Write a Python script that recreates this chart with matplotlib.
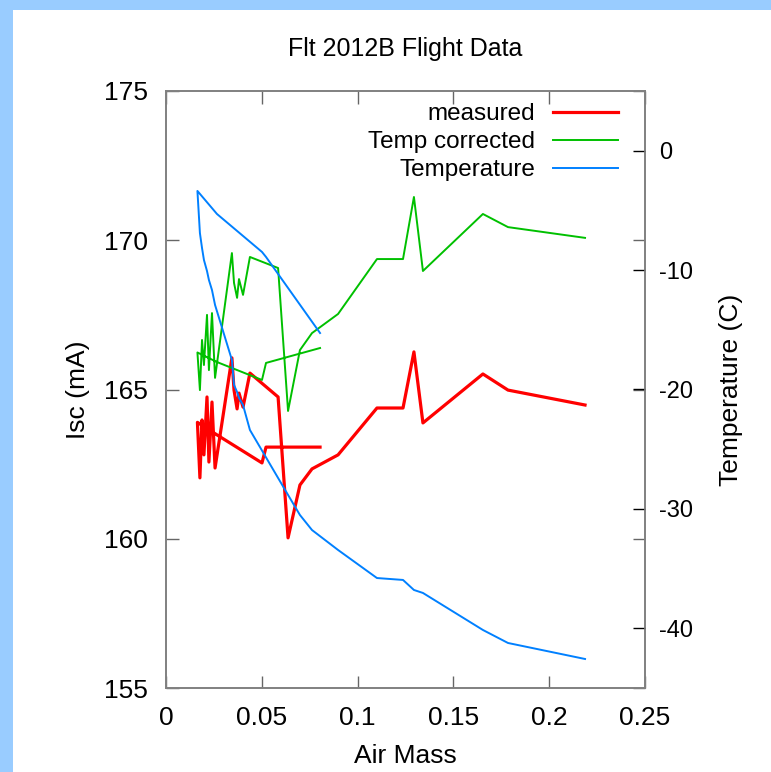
import matplotlib
matplotlib.use("Agg")
import matplotlib.pyplot as plt
from matplotlib.font_manager import findfont, FontProperties
from matplotlib.patches import Rectangle

# ---- data (ascent to turnaround, then descent) ----
air_mass = [0.2187, 0.1785, 0.1654, 0.1341, 0.1294, 0.1237, 0.1101, 0.0898,
            0.0762, 0.0699, 0.0637, 0.0585, 0.0438, 0.0402, 0.0381, 0.0371,
            0.0355, 0.0344, 0.0256, 0.0240, 0.0224, 0.0214, 0.0198, 0.0188,
            0.0177, 0.0164,
            0.0266, 0.0501, 0.0522, 0.0804]
measured = [164.48, 164.98, 165.52, 163.88, 166.26, 164.38, 164.38, 162.81,
            162.34, 161.80, 160.03, 164.75, 165.55, 164.41, 164.88, 164.35,
            164.98, 166.06, 162.37, 164.58, 162.57, 164.75, 162.81, 163.98,
            162.04, 163.90,
            163.48, 162.54, 163.07, 163.07]
temp_corrected = [170.08, 170.44, 170.88, 168.97, 171.45, 169.37, 169.37, 167.53,
                  166.89, 166.32, 164.28, 169.07, 169.44, 168.17, 168.70, 168.07,
                  168.57, 169.57, 165.39, 167.56, 165.65, 167.50, 165.82, 166.66,
                  164.98, 166.24,
                  165.92, 165.32, 165.89, 166.39]
temperature = [-42.57, -41.23, -40.14, -37.04, -36.79, -35.95, -35.79, -33.44,
               -31.77, -30.51, -28.83, -27.41, -23.39, -21.30, -20.71, -20.21,
               -19.62, -17.53, -12.92, -11.67, -10.83, -10.08, -9.15, -8.15,
               -6.90, -3.37,
               -5.30, -8.48, -8.90, -15.27]

x_ticks = [0, 0.05, 0.1, 0.15, 0.2, 0.25]
x_ticklabels = ["0", "0.05", "0.1", "0.15", "0.2", "0.25"]
y_ticks = [155, 160, 165, 170, 175]
y2_ticks = [0, -10, -20, -30, -40]

def pick(names):
    out = []
    for n in names:
        try:
            findfont(FontProperties(family=n), fallback_to_default=False)
            out.append(n)
        except Exception:
            pass
    return out or ["DejaVu Sans"]

narrow = pick(["Liberation Sans Narrow", "Liberation Sans", "DejaVu Sans"])
regular = pick(["Liberation Sans", "DejaVu Sans"])
plt.rcParams["font.family"] = regular

W, H = 771, 772
fig = plt.figure(figsize=(W / 100, H / 100), dpi=100)
fig.patch.set_facecolor("#99ccff")
fig.add_artist(Rectangle((13 / W, 0), 1, 1 - 10 / H, transform=fig.transFigure,
                         facecolor="white", edgecolor="none", zorder=-10))

ax = fig.add_axes([166 / W, 1 - 688 / H, 479 / W, 597 / H])
ax.set_facecolor("white")
ax2 = ax.twinx()

l1, = ax.plot(air_mass, measured, color="#ff0000", lw=2.3, label="measured")
l2, = ax.plot(air_mass, temp_corrected, color="#00c000", lw=1.4, label="Temp corrected")
l3, = ax2.plot(air_mass, temperature, color="#0080ff", lw=1.4, label="Temperature")

ax.set_xlim(0, 0.25)
ax.set_ylim(155, 175)
ax2.set_ylim(-45, 5)

ax.set_xticks(x_ticks)
ax.set_xticklabels(x_ticklabels, family=narrow, fontsize=19)
ax.set_yticks(y_ticks)
ax.set_yticklabels([str(v) for v in y_ticks], family=narrow, fontsize=19)
ax2.set_yticks(y2_ticks)
ax2.set_yticklabels([str(v) for v in y2_ticks], family=regular, fontsize=17)

ax.tick_params(axis="both", direction="in", length=9, width=1, color="#666666",
               top=True, right=True)
ax.tick_params(axis="y", pad=13)
ax.tick_params(axis="x", pad=13)
ax2.tick_params(axis="y", direction="in", length=9, width=1, color="black", pad=10)

for a in (ax, ax2):
    for s in a.spines.values():
        s.set_color("#808080")
        s.set_linewidth(1.2)

ax.set_xlabel("Air Mass", family=narrow, fontsize=19, labelpad=10)
ax.set_ylabel("Isc (mA)", family=narrow, fontsize=19, labelpad=10)
ax2.set_ylabel("Temperature (C)", family=narrow, fontsize=19, labelpad=19)
ax.set_title("Flt 2012B Flight Data", family=narrow, fontsize=18, pad=25)

leg = ax.legend([l1, l2, l3], ["measured", "Temp corrected", "Temperature"],
                loc="upper right", markerfirst=False, frameon=False, fontsize=17.5,
                handlelength=2.67, handletextpad=0.74, labelspacing=0.25,
                borderaxespad=0.3, borderpad=0.2,
                bbox_to_anchor=(1 - 15 / 479, 1 + 0 / 597))
for t in leg.get_texts():
    t.set_family(regular)

fig.savefig("out.png", dpi=100, facecolor=fig.get_facecolor())
